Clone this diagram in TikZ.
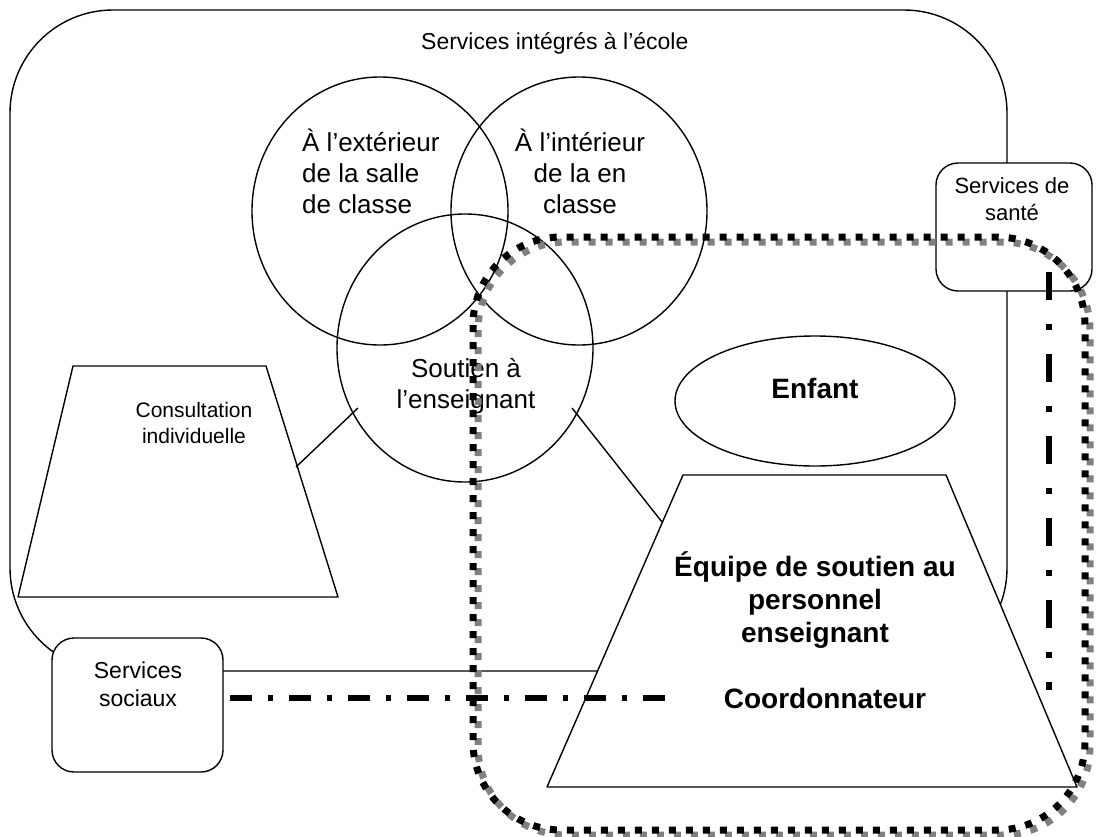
\documentclass[tikz,border=0pt]{standalone}
\usepackage{fontspec}
\setmainfont{Liberation Sans}
\usetikzlibrary{shapes.geometric}
\begin{document}
\begin{tikzpicture}[x=1pt,y=-1pt,
  thinline/.style={line width=1.4pt, line join=round},
  venn/.style={ellipse, draw, thinline, minimum width=256pt, minimum height=268pt, inner sep=0pt},
  lbl/.style={font=\fontsize{26}{31}\selectfont, inner sep=0pt},
  boxlbl/.style={font=\fontsize{23}{28}\selectfont, align=center, inner sep=0pt},
  boldlbl/.style={font=\fontsize{28}{33}\selectfont\bfseries, align=center, inner sep=0pt},
  dashdotline/.style={line width=6.5pt, line cap=butt},
  squaredots/.style={line width=7pt, line cap=butt, dash pattern=on 7pt off 10pt, rounded corners=88pt}
]
\useasboundingbox (0,0) rectangle (1102,836);

% school frame
\node[draw, thinline, fill=white, rounded corners=103pt, minimum width=997pt, minimum height=661pt, inner sep=0pt] (school) at (508.5,340.5) {};
\node[anchor=west, font=\fontsize{23}{27}\selectfont, inner sep=0pt] (title) at (421,43) {Services intégrés à l’école};

% Venn circles
\node[venn] (c1) at (380,211) {};
\node[venn] (c2) at (579,211) {};
\node[venn] (c3) at (465,348) {};

% Consultation trapezoid
\coordinate (k1) at (73,366);
\coordinate (k2) at (266,366);
\coordinate (k3) at (338,597);
\coordinate (k4) at (18,597);
\draw[thinline, fill=white] (k1) -- (k2) -- (k3) -- (k4) -- cycle;
\node[font=\fontsize{21}{26}\selectfont, align=center, inner sep=0pt] (consult) at (194,423) {Consultation\\individuelle};

% Equipe trapezoid
\coordinate (t1) at (683,475);
\coordinate (t2) at (946,475);
\coordinate (t3) at (1077,787);
\coordinate (t4) at (547,787);
\draw[thinline, fill=white] (t1) -- (t2) -- (t3) -- (t4) -- cycle;

% Enfant
\node[ellipse, draw, thinline, minimum width=280pt, minimum height=130pt, inner sep=0pt] (enfant) at (815,401) {};
\node[boldlbl] (enfantlbl) at (815,388) {Enfant};

% boxes
\node[draw, thinline, fill=white, rounded corners=22pt, minimum width=171pt, minimum height=134pt, inner sep=0pt] (sociaux) at (137.5,705) {};
\node[boxlbl] (sociauxlbl) at (138,684) {Services\\sociaux};
\node[draw, thinline, fill=white, rounded corners=22pt, minimum width=156pt, minimum height=128pt, inner sep=0pt] (sante) at (1014,227) {};
\node[font=\fontsize{22}{27}\selectfont, align=center, inner sep=0pt] (santelbl) at (1012,199.5) {Services de\\santé};

% texts
\node[lbl, anchor=west, align=left] (c1lbl) at (302,171) {À l’extérieur\\de la salle\\de classe};
\node[lbl, align=center] (c2lbl) at (580,171) {À l’intérieur\\de la en\\classe};
\node[lbl, align=center] (c3lbl) at (466,386) {Soutien à\\l’enseignant};
\node[boldlbl] (equipe) at (815,600) {Équipe de soutien au\\personnel\\enseignant};
\node[boldlbl] (coord) at (825,698) {Coordonnateur};

% connectors
\coordinate (c3l) at (358,408);
\coordinate (c3r) at (572,408);
\coordinate (consultR) at (296,467);
\coordinate (equipeL) at (662,522);
\draw[thinline] (c3l) -- (consultR);
\draw[thinline] (c3r) -- (equipeL);

% dash-dot links
\coordinate (socDD) at (230,698);
\coordinate (coordDD) at (665,698);
\draw[dashdotline, dash pattern=on 22pt off 16pt on 5pt off 16pt] (socDD) -- (coordDD);
\coordinate (santeDD) at (1049,272);
\coordinate (equipeDD) at (1049,690);
\draw[dashdotline, dash pattern=on 28pt off 24pt on 6pt off 24pt] (santeDD) -- (equipeDD);

% square-dotted team boundary with shadow
\draw[squaredots, color=black!50] (478,242) rectangle (1090,835);
\draw[squaredots, color=black] (473,237) rectangle (1085,830);
\end{tikzpicture}
\end{document}
